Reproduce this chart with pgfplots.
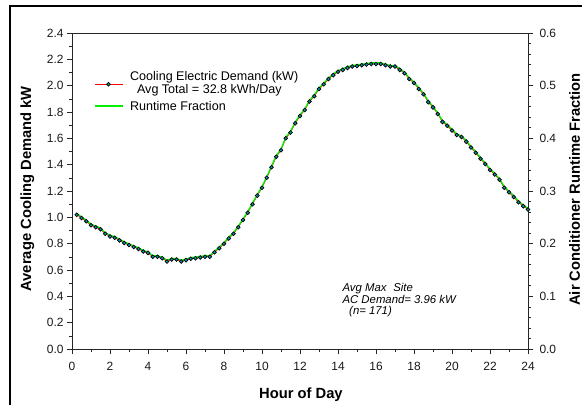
\documentclass[border=0pt]{standalone}
\usepackage{pgfplots}
\pgfplotsset{compat=1.18}
\usepackage{pgfplotstable}
\usepackage{fontspec}
\setmainfont{Liberation Sans}

\definecolor{demandred}{RGB}{255,0,0}
\definecolor{rfgreen}{RGB}{0,240,0}
\definecolor{markfill}{RGB}{0,155,175}

\tikzset{labelfont/.style={font=\bfseries\fontsize{14.8}{16}\selectfont}}

% 15-minute averages: cooling demand (kW) and runtime fraction
\pgfplotstableread{
hour  kw     rf
0.25  1.020  0.2570
0.50  0.995  0.2508
0.75  0.970  0.2445
1.00  0.940  0.2370
1.25  0.925  0.2333
1.50  0.910  0.2295
1.75  0.875  0.2208
2.00  0.855  0.2158
2.25  0.845  0.2133
2.50  0.825  0.2083
2.75  0.805  0.2033
3.00  0.790  0.1995
3.25  0.775  0.1958
3.50  0.760  0.1920
3.75  0.740  0.1870
4.00  0.730  0.1845
4.25  0.700  0.1770
4.50  0.700  0.1770
4.75  0.690  0.1745
5.00  0.665  0.1683
5.25  0.680  0.1720
5.50  0.680  0.1720
5.75  0.665  0.1683
6.00  0.675  0.1708
6.25  0.685  0.1733
6.50  0.690  0.1745
6.75  0.695  0.1758
7.00  0.700  0.1770
7.25  0.700  0.1770
7.50  0.735  0.1858
7.75  0.765  0.1933
8.00  0.800  0.2020
8.25  0.840  0.2120
8.50  0.875  0.2208
8.75  0.925  0.2333
9.00  0.980  0.2470
9.25  1.035  0.2608
9.50  1.100  0.2770
9.75  1.165  0.2933
10.00 1.225  0.3083
10.25 1.300  0.3270
10.50 1.380  0.3470
10.75 1.460  0.3670
11.00 1.510  0.3795
11.25 1.600  0.4020
11.50 1.645  0.4133
11.75 1.715  0.4308
12.00 1.770  0.4445
12.25 1.815  0.4558
12.50 1.880  0.4720
12.75 1.920  0.4820
13.00 1.975  0.4958
13.25 2.010  0.5045
13.50 2.050  0.5145
13.75 2.080  0.5220
14.00 2.105  0.5283
14.25 2.120  0.5320
14.50 2.135  0.5358
14.75 2.145  0.5383
15.00 2.150  0.5395
15.25 2.155  0.5408
15.50 2.160  0.5420
15.75 2.165  0.5433
16.00 2.165  0.5433
16.25 2.165  0.5433
16.50 2.155  0.5408
16.75 2.145  0.5383
17.00 2.145  0.5383
17.25 2.120  0.5320
17.50 2.095  0.5258
17.75 2.050  0.5145
18.00 2.020  0.5070
18.25 1.975  0.4958
18.50 1.935  0.4858
18.75 1.875  0.4708
19.00 1.835  0.4608
19.25 1.785  0.4483
19.50 1.725  0.4333
19.75 1.695  0.4258
20.00 1.660  0.4170
20.25 1.625  0.4083
20.50 1.610  0.4045
20.75 1.575  0.3958
21.00 1.530  0.3845
21.25 1.490  0.3745
21.50 1.445  0.3633
21.75 1.405  0.3533
22.00 1.360  0.3420
22.25 1.325  0.3333
22.50 1.285  0.3233
22.75 1.225  0.3083
23.00 1.190  0.2995
23.25 1.155  0.2908
23.50 1.115  0.2808
23.75 1.085  0.2733
24.00 1.060  0.2670
}\hourly

\begin{document}
\begin{tikzpicture}
\pgfplotsset{
  common/.style={
    at={(72bp,56bp)}, anchor=south west,
    scale only axis, width=456bp, height=316bp,
    xmin=0, xmax=24,
    tick align=outside,
    major tick length=5bp, minor tick length=3bp,
    every tick/.style={black!85, line width=0.6bp},
    axis line style={black!85, line width=0.8bp},
    ticklabel style={font=\fontsize{12}{14}\selectfont, text=black!90},
    /pgf/number format/assume math mode=true,
    clip=false,
  },
  demandmark/.style={mark=*, mark size=1.9bp,
    mark options={fill=markfill, draw=black, line width=0.7bp}},
}

% left axis: cooling demand line, ticks, labels and legend
\begin{axis}[common,
  ymin=0, ymax=2.4,
  ytick={0,0.2,0.4,0.6,0.8,1.0,1.2,1.4,1.6,1.8,2.0,2.2,2.4},
  minor y tick num=1,
  xtick={0,2,4,6,8,10,12,14,16,18,20,22,24},
  minor x tick num=1,
  xtick pos=left, ytick pos=left,
  xticklabel style={yshift=-5bp},
  yticklabel style={/pgf/number format/.cd, fixed, fixed zerofill, precision=1},
  xlabel={Hour of Day},
  ylabel={Average Cooling Demand kW},
  every axis x label/.style={at={(axis description cs:0.502,-0.156)}, anchor=base, labelfont},
  every axis y label/.style={at={(axis description cs:-0.0899,0.507)}, anchor=base, rotate=90, labelfont},
  legend image code/.code={\draw[#1, mark repeat=2, mark phase=2]
    plot coordinates {(0bp,0bp) (14bp,0bp) (28bp,0bp)};},
  legend style={draw=none, fill=none, at={(axis description cs:0.041,0.892)}, anchor=north west,
    font=\fontsize{12.6}{13}\selectfont, row sep=0bp,
    nodes={text depth=},
    /tikz/every odd column/.style={column sep=5bp}},
  legend cell align=left,
]
\addplot[demandred, line width=0.75bp, forget plot] table[x=hour, y=kw]{\hourly};
\addlegendimage{demandred, line width=0.75bp, demandmark}
\addlegendentry{\begin{tabular}[t]{@{}l@{}}Cooling Electric Demand (kW)\\\hspace*{0.55em}Avg Total = 32.8 kWh/Day\end{tabular}}
\addlegendimage{rfgreen, line width=1.3bp}
\addlegendentry{Runtime Fraction}

\begin{scope}[every node/.style={anchor=base west, font=\itshape\fontsize{11.4}{12}\selectfont, inner sep=0pt}]
\node at (axis cs:14.23,0.4367) {Avg Max\hspace{0.6em}Site};
\node at (axis cs:14.23,0.3486) {AC Demand= 3.96 kW};
\node at (axis cs:14.58,0.2605) {(n= 171)};
\end{scope}
\end{axis}

% right axis: runtime fraction
\begin{axis}[common,
  hide x axis,
  axis y line*=right,
  ymin=0, ymax=0.6,
  ytick={0,0.1,0.2,0.3,0.4,0.5,0.6},
  minor y tick num=4,
  yticklabel style={xshift=3bp, /pgf/number format/.cd, fixed, fixed zerofill, precision=1},
]
\addplot[rfgreen, line width=1.3bp] table[x=hour, y=rf]{\hourly};
\node[labelfont, rotate=90, anchor=base] at (axis description cs:1.114,0.505)
  {Air Conditioner Runtime Fraction};
\end{axis}

% demand markers on top of both lines
\begin{axis}[common, hide axis, ymin=0, ymax=2.4]
\addplot[draw=none, demandmark] table[x=hour, y=kw]{\hourly};
\end{axis}

% outer frame
\draw[line width=1.6bp, black] (10bp,0bp) -- (10bp,399bp) -- (582bp,399bp);

\pgfresetboundingbox
\path[use as bounding box] (0bp,0bp) rectangle (582bp,405bp);
\end{tikzpicture}
\end{document}
